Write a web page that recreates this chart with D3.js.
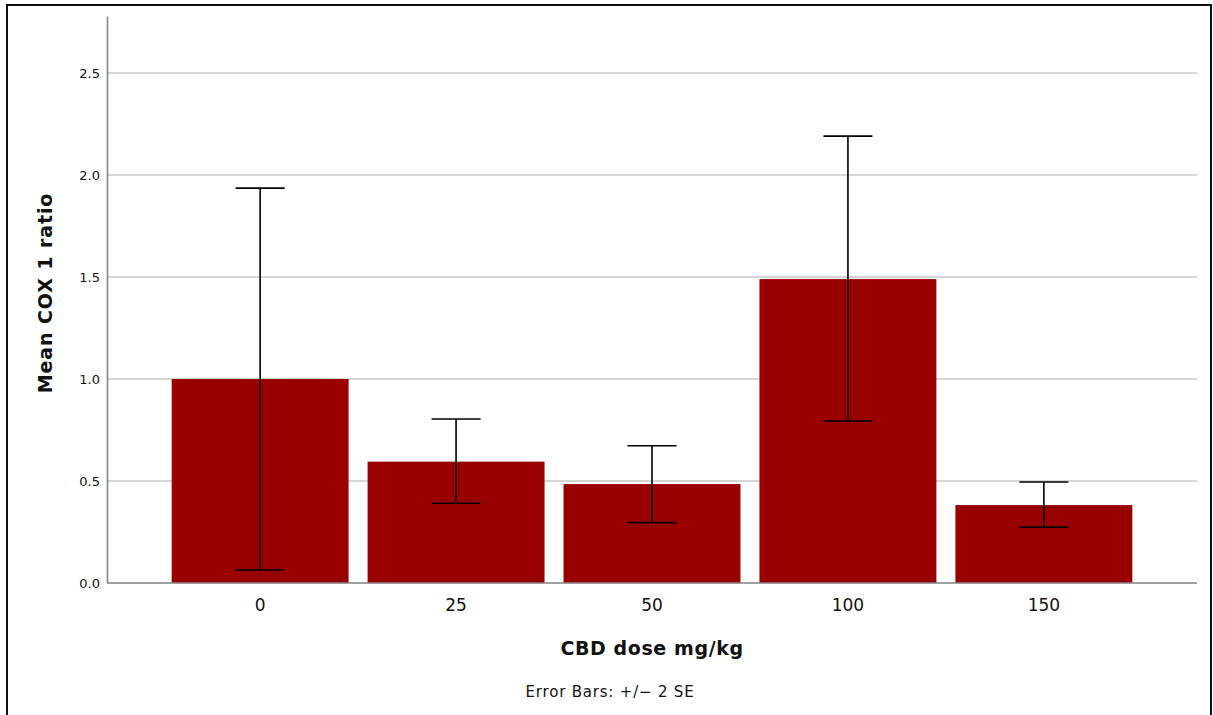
<!DOCTYPE html>
<html>
<head>
<meta charset="utf-8">
<script src="https://cdn.jsdelivr.net/npm/d3@7"></script>
<style>
  html, body { margin: 0; padding: 0; background: #fff; }
  svg { display: block; }
  text { font-family: "DejaVu Sans", "Lucida Grande", sans-serif; fill: #111; }
</style>
</head>
<body>
<svg id="chart" width="1213" height="715"></svg>
<script>
// CBD dose groups and mean COX 1 ratio, with +/- 2 SE limits
const doses = ["0", "25", "50", "100", "150"];
const means = [1.00, 0.595, 0.485, 1.49, 0.382];
const errLow = [0.064, 0.391, 0.296, 0.794, 0.274];
const errHigh = [1.936, 0.804, 0.673, 2.191, 0.495];
const yTicks = [0.0, 0.5, 1.0, 1.5, 2.0, 2.5];

const svg = d3.select("#chart");
const W = 1213, H = 715;
const plot = { left: 107, right: 1197, top: 16, bottom: 583 };

// outer frame
svg.append("rect")
  .attr("x", 7).attr("y", 5)
  .attr("width", 1204).attr("height", H + 10)
  .attr("fill", "none").attr("stroke", "#111").attr("stroke-width", 2);

const x = d3.scaleBand()
  .domain(doses)
  .range([plot.left, plot.right])
  .paddingInner(0.097)
  .paddingOuter(0.33);

const y = d3.scaleLinear()
  .domain([0, 2.78])
  .range([plot.bottom, plot.top]);

// horizontal gridlines
svg.append("g")
  .selectAll("line")
  .data(yTicks.filter(d => d > 0))
  .join("line")
  .attr("x1", plot.left).attr("x2", plot.right)
  .attr("y1", d => y(d)).attr("y2", d => y(d))
  .attr("stroke", "#c8c8c8").attr("stroke-width", 1.5);

// bars
svg.append("g")
  .selectAll("rect")
  .data(doses)
  .join("rect")
  .attr("x", d => x(d))
  .attr("width", x.bandwidth())
  .attr("y", (d, i) => y(means[i]))
  .attr("height", (d, i) => y(0) - y(means[i]))
  .attr("fill", "#990000");

// y axis
const yAxis = d3.axisLeft(y)
  .tickValues(yTicks)
  .tickFormat(d3.format(".1f"))
  .tickSize(0)
  .tickPadding(7);
const gy = svg.append("g")
  .attr("transform", `translate(${plot.left},0)`)
  .call(yAxis);
gy.select(".domain").attr("stroke", "#808080").attr("stroke-width", 1.5);
gy.selectAll("text").attr("font-size", 13).attr("fill", "#222")
  .style("font-family", "'DejaVu Sans', sans-serif");

// x axis
const xAxis = d3.axisBottom(x).tickSize(0).tickPadding(16);
const gx = svg.append("g")
  .attr("transform", `translate(0,${plot.bottom})`)
  .call(xAxis);
gx.select(".domain").attr("stroke", "#808080").attr("stroke-width", 1.5)
  .attr("d", `M${plot.left},0H${plot.right}`);
gx.selectAll("text").attr("font-size", 17).attr("fill", "#111")
  .style("font-family", "'DejaVu Sans', sans-serif");

// error bars
const capHalf = 24.5;
const eb = svg.append("g")
  .attr("stroke", "#000").attr("stroke-width", 1.6).attr("fill", "none");
doses.forEach((d, i) => {
  const cx = x(d) + x.bandwidth() / 2;
  eb.append("line")
    .attr("x1", cx).attr("x2", cx)
    .attr("y1", y(errLow[i])).attr("y2", y(errHigh[i]));
  [errLow[i], errHigh[i]].forEach(v => {
    eb.append("line")
      .attr("x1", cx - capHalf).attr("x2", cx + capHalf)
      .attr("y1", y(v)).attr("y2", y(v));
  });
});

// axis titles
svg.append("text")
  .attr("transform", `translate(52,293) rotate(-90)`)
  .attr("text-anchor", "middle")
  .attr("font-size", 19).attr("font-weight", "bold")
  .attr("letter-spacing", 0.9)
  .text("Mean COX 1 ratio");

svg.append("text")
  .attr("x", (plot.left + plot.right) / 2)
  .attr("y", 655)
  .attr("text-anchor", "middle")
  .attr("font-size", 19).attr("font-weight", "bold")
  .attr("letter-spacing", 0.6)
  .text("CBD dose mg/kg");

svg.append("text")
  .attr("x", 610)
  .attr("y", 697)
  .attr("text-anchor", "middle")
  .attr("font-size", 15)
  .attr("letter-spacing", 0.8)
  .text("Error Bars: +/\u2212 2 SE");
</script>
</body>
</html>
